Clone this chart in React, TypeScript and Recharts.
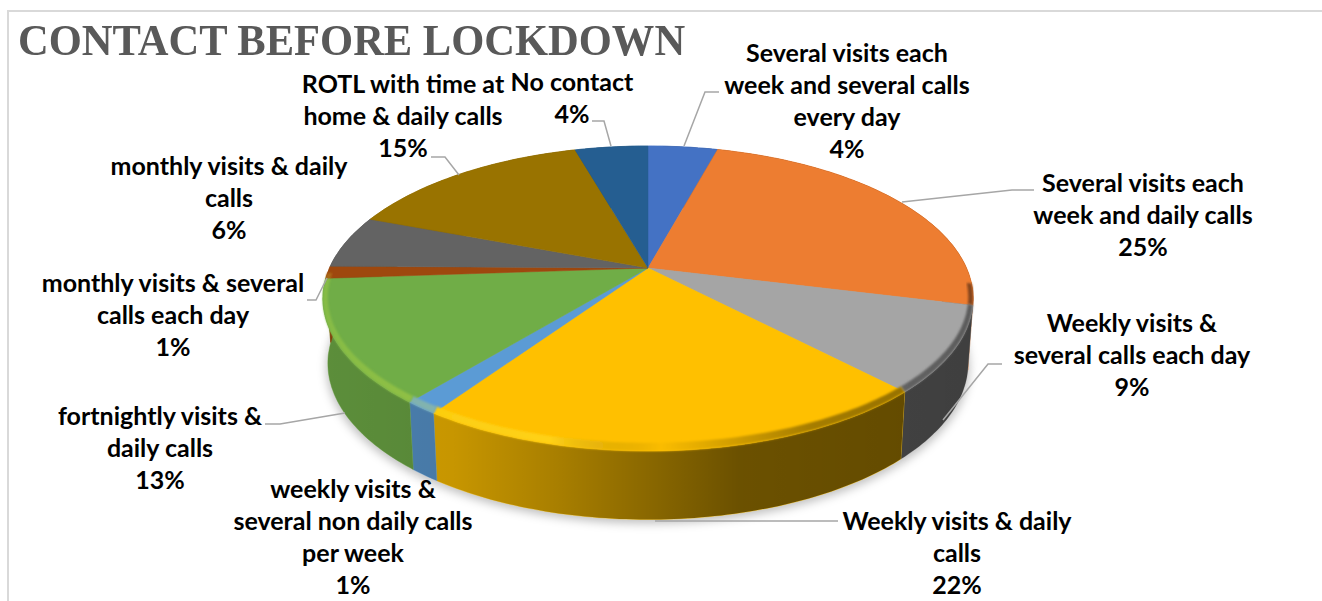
import { PieChart, Pie } from 'recharts';

// contact pattern before lockdown, clockwise from 12 o'clock
const categories = [
  'Several visits each week and several calls every day',
  'Several visits each week and daily calls',
  'Weekly visits & several calls each day',
  'Weekly visits & daily calls',
  'weekly visits & several non daily calls per week',
  'fortnightly visits & daily calls',
  'monthly visits & several calls each day',
  'monthly visits & daily calls',
  'ROTL with time at home & daily calls',
  'No contact',
];
const shares = [4.2, 24.7, 9, 21.6, 1.4, 13, 1.3, 5.6, 14.8, 4.4];
const colors = ['#4472C4', '#ED7D31', '#A5A5A5', '#FFC000', '#5B9BD5', '#70AD47', '#9E480E', '#636363', '#997300', '#255E91'];

const labelRows = [
  ['Several visits each', 'week and several calls', 'every day'],
  ['Several visits each', 'week and daily calls'],
  ['Weekly visits &', 'several calls each day'],
  ['Weekly visits & daily', 'calls'],
  ['weekly visits &', 'several non daily calls', 'per week'],
  ['fortnightly visits &', 'daily calls'],
  ['monthly visits & several', 'calls each day'],
  ['monthly visits & daily', 'calls'],
  ['ROTL with time at', 'home & daily calls'],
  ['No contact'],
];

// label anchor: centre x, centre y of first row, then leader line points
const labelLayout = [
  { x: 847, y: 52, leader: '719,92 705,92 684,146' },
  { x: 1143, y: 182, leader: '1034,190 1012,190 902,202' },
  { x: 1132, y: 322, leader: '1002,364 988,364 943,420' },
  { x: 957, y: 520, leader: '838,521 655,521' },
  { x: 353, y: 488, leader: '' },
  { x: 160, y: 415, leader: '265,424 280,424 345,413' },
  { x: 173, y: 282, leader: '307,300 316,300 327,278' },
  { x: 229, y: 165, leader: '' },
  { x: 403, y: 83, leader: '431,157 445,157 459,175' },
  { x: 572, y: 81, leader: '592,121 604,121 611,146' },
];

const tableData = categories.map((name, i) => ({ name, value: shares[i], fill: colors[i] }));

const CX = 648;
const CY = 268;
const RADIUS = 325;
const TILT = 0.2; // perspective: back of the disc is further away
const TOP = { b: 0.98, a: 0.4505, drop: 0 };
const BOTTOM = { b: 0.965, a: 0.4615, drop: 0.197 };
const RIM_INNER = { b: 0.98 * 0.985, a: 0.4505 * 0.955, drop: 0 };

type Plane = typeof TOP;

// recharts angle (deg, ccw from 3 o'clock) -> point on the tilted disc
const project = (p: any, angle: number, plane: Plane) => {
  const th = ((90 - angle) * Math.PI) / 180;
  const u = Math.sin(th);
  const v = Math.cos(th);
  const d = 1 + TILT * v;
  const r = p.outerRadius;
  return [p.cx + (r * plane.b * u) / d, p.cy + r * plane.drop - (r * plane.a * v) / d];
};

const arc = (p: any, from: number, to: number, plane: Plane) => {
  const pts: number[][] = [];
  const dir = to < from ? -1 : 1;
  for (let a = from; dir * (to - a) > 0; a += dir) pts.push(project(p, a, plane));
  pts.push(project(p, to, plane));
  return pts;
};

const toPath = (pts: number[][]) =>
  'M' + pts.map((q) => q[0].toFixed(1) + ',' + q[1].toFixed(1)).join('L') + 'Z';

const TopSlice = (p: any) => {
  const d = toPath([[p.cx, p.cy], ...arc(p, p.startAngle, p.endAngle, TOP)]);
  return <path d={d} fill={p.fill} stroke={p.fill} strokeWidth={0.5} />;
};

const WallSlice = (p: any) => {
  const d = toPath([...arc(p, p.startAngle, p.endAngle, TOP), ...arc(p, p.endAngle, p.startAngle, BOTTOM)]);
  return (
    <g>
      <path d={d} fill={p.fill} stroke={p.fill} strokeWidth={0.5} />
      <path d={d} fill="url(#wallShade)" />
    </g>
  );
};

const ShadowSlice = (p: any) => {
  const low = { ...BOTTOM, drop: BOTTOM.drop + 0.012, b: BOTTOM.b + 0.004 };
  const d = toPath([[p.cx, p.cy + 60], ...arc(p, p.startAngle, p.endAngle, low)]);
  return <path d={d} fill="#000" fillOpacity={0.25} filter="url(#softShadow)" />;
};

// rounded rim, only on the front half
const BevelSlice = (p: any) => {
  const start = Math.min(p.startAngle, -6);
  const end = Math.max(p.endAngle, -178);
  if (start <= end) return null;
  const d = toPath([...arc(p, start, end, TOP), ...arc(p, end, start, RIM_INNER)]);
  return (
    <g filter="url(#softRim)">
      <path d={d} fill={p.fill} />
      <path d={d} fill="url(#rimShade)" />
    </g>
  );
};

const renderLabel = (p: any) => {
  const spot = labelLayout[p.index];
  const rows = [...labelRows[p.index], Math.round(p.percent * 100) + '%'];
  return (
    <g>
      {spot.leader && <polyline points={spot.leader} fill="none" stroke="#a6a6a6" strokeWidth={1.5} />}
      {rows.map((row, i) => (
        <text
          key={i}
          x={spot.x}
          y={spot.y + i * 32}
          textAnchor="middle"
          dominantBaseline="central"
          fontFamily="Lato"
          fontWeight={700}
          fontSize={25}
          fill="#000"
        >
          {row}
        </text>
      ))}
    </g>
  );
};

const pieProps = {
  data: tableData,
  dataKey: 'value',
  nameKey: 'name',
  cx: CX,
  cy: CY,
  outerRadius: RADIUS,
  startAngle: 90,
  endAngle: -270,
  isAnimationActive: false,
  labelLine: false,
};

export default function App() {
  return (
    <div style={{ position: 'absolute', left: 0, top: 0, width: 1322, height: 601, overflow: 'hidden', background: '#fff' }}>
      <div style={{ position: 'absolute', left: 7, top: 10, right: -4, bottom: -4, border: '2px solid #d9d9d9' }} />
      <div
        style={{
          position: 'absolute',
          left: 18,
          top: 12,
          fontFamily: 'Liberation Serif',
          fontWeight: 700,
          fontSize: 45,
          lineHeight: '56px',
          color: '#595959',
          whiteSpace: 'nowrap',
          transform: 'scaleX(0.945)',
          transformOrigin: 'left center',
        }}
      >
        CONTACT BEFORE LOCKDOWN
      </div>
      <div style={{ position: 'absolute', left: 0, top: 0 }}>
        <PieChart width={1322} height={601} margin={{ top: 0, right: 0, bottom: 0, left: 0 }}>
          <defs>
            <filter id="softShadow" x="-20%" y="-20%" width="140%" height="140%">
              <feGaussianBlur stdDeviation="5" />
            </filter>
            <filter id="softRim" x="-10%" y="-30%" width="120%" height="160%">
              <feGaussianBlur stdDeviation="1.2" />
            </filter>
            <linearGradient id="wallShade" gradientUnits="userSpaceOnUse" x1="323" y1="0" x2="973" y2="0">
              <stop offset="0" stopColor="#000" stopOpacity={0.18} />
              <stop offset="0.2" stopColor="#000" stopOpacity={0.22} />
              <stop offset="0.36" stopColor="#000" stopOpacity={0.34} />
              <stop offset="0.5" stopColor="#000" stopOpacity={0.46} />
              <stop offset="0.64" stopColor="#000" stopOpacity={0.58} />
              <stop offset="1" stopColor="#000" stopOpacity={0.62} />
            </linearGradient>
            <linearGradient id="rimShade" gradientUnits="userSpaceOnUse" x1="323" y1="0" x2="973" y2="0">
              <stop offset="0" stopColor="#e8ff40" stopOpacity={0.18} />
              <stop offset="0.35" stopColor="#fff040" stopOpacity={0.35} />
              <stop offset="0.52" stopColor="#000" stopOpacity={0.02} />
              <stop offset="0.75" stopColor="#000" stopOpacity={0.35} />
              <stop offset="1" stopColor="#000" stopOpacity={0.45} />
            </linearGradient>
          </defs>
          <Pie {...pieProps} shape={ShadowSlice} />
          <Pie {...pieProps} shape={WallSlice} />
          <Pie {...pieProps} shape={TopSlice} />
          <Pie {...pieProps} shape={BevelSlice} label={renderLabel} />
        </PieChart>
      </div>
    </div>
  );
}
